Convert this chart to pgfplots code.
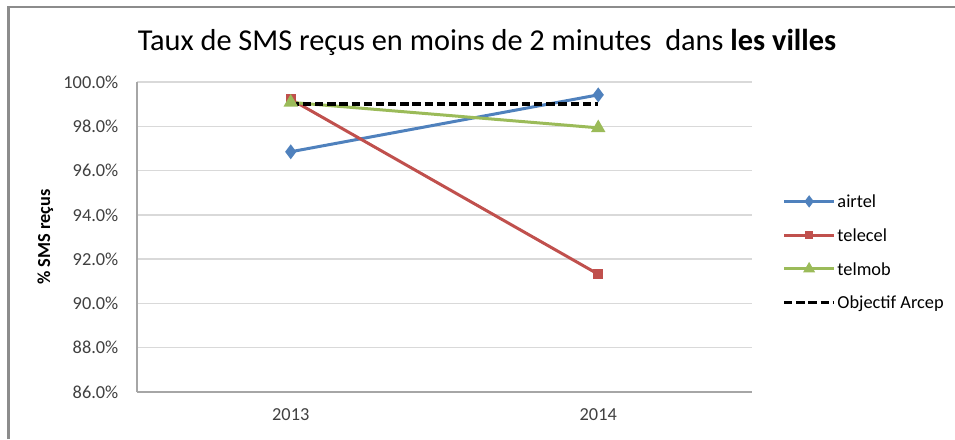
\documentclass[border=0pt]{standalone}
\usepackage{fontspec}
\setmainfont{Carlito}
\usepackage{pgfplots}
\pgfplotsset{compat=1.18}

\definecolor{airtelc}{HTML}{4F81BD}
\definecolor{telecelc}{HTML}{C0504D}
\definecolor{telmobc}{HTML}{9BBB59}
\definecolor{gridc}{HTML}{D9D9D9}
\definecolor{axisc}{HTML}{A6A6A6}
\definecolor{framec}{HTML}{8C8C8C}
\definecolor{tickc}{HTML}{404040}

% 1 px of the reference = 0.6pt
\begin{document}
\begin{tikzpicture}
    % outer chart frame (only left and top edges are in the crop)
    \draw[framec, line width=1.3pt] (5.1pt,0pt) -- (5.1pt,259.2pt) -- (573pt,259.2pt);

    \node[font=\fontsize{18.2}{20}\selectfont, anchor=center] at (292.2pt,238.2pt)
        {Taux de SMS reçus en moins de 2 minutes\ \ dans \textbf{les villes}};

    \begin{axis}[
        at={(82.2pt,28.2pt)}, anchor=south west,
        scale only axis,
        width=369pt, height=186pt,
        xmin=-0.5, xmax=1.5,
        ymin=86, ymax=100,
        xtick={0,1},
        xticklabels={2013,2014},
        ytick={86,88,...,100},
        yticklabel={\pgfmathprintnumber[fixed,fixed zerofill,precision=1]{\tick}\%},
        /pgf/number format/assume math mode=true,
        major tick length=0pt,
        axis x line=bottom, axis y line=left,
        axis line style={axisc, line width=0.8pt, -},
        ymajorgrids,
        grid style={gridc, line width=0.8pt},
        tick label style={font=\fontsize{11}{13}\selectfont, text=tickc},
        yticklabel style={anchor=east, inner sep=0pt, xshift=-11pt},
        xticklabel style={anchor=north, inner sep=0pt, yshift=-10pt},
        ylabel={\textbf{\% SMS reçus}},
        ylabel style={at={(axis description cs:0,0.5)}, anchor=center,
            yshift=55pt, font=\fontsize{11}{13}\selectfont},
        clip=false,
        legend cell align=left,
        legend style={draw=none, fill=none, at={(1.049,0.4516)}, anchor=west,
            inner sep=0pt, row sep=12.6pt,
            font=\fontsize{11}{13}\selectfont,
            nodes={inner sep=0pt, text depth=0pt}},
        legend image code/.code={%
            \draw[mark repeat=2, mark phase=2, #1, every mark/.append style={scale=0.75}]
                plot coordinates {(0pt,0pt) (15pt,0pt) (30pt,0pt)};
            \node[anchor=west] at (30pt,0pt) {\hspace{3pt}};
        },
    ]
        \addplot[airtelc, line width=1.8pt, mark=diamond*, mark size=3pt,
            mark options={solid}] coordinates {(0,96.85) (1,99.42)};
        \addlegendentry{airtel}
        \addplot[telecelc, line width=1.8pt, mark=square*, mark size=2.1pt,
            mark options={solid}] coordinates {(0,99.22) (1,91.32)};
        \addlegendentry{telecel}
        \addplot[telmobc, line width=1.8pt, mark=triangle*, mark size=3.2pt,
            mark options={solid}] coordinates {(0,99.08) (1,97.93)};
        \addlegendentry{telmob}
        \addplot[black, line width=2pt, dash pattern=on 5pt off 2.3pt]
            coordinates {(0,99.0) (1,99.0)};
        \addlegendentry{Objectif Arcep}
    \end{axis}

    \pgfresetboundingbox
    \path[use as bounding box] (0pt,0pt) rectangle (573pt,263.4pt);
\end{tikzpicture}
\end{document}
